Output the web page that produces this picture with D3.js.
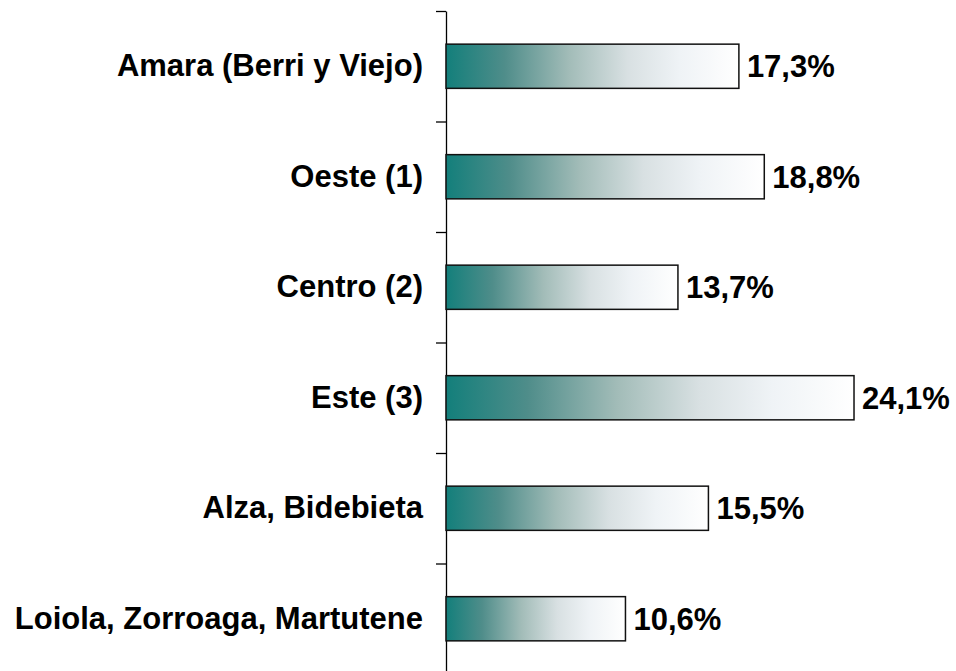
<!DOCTYPE html>
<html>
<head>
<meta charset="utf-8">
<script src="https://cdn.jsdelivr.net/npm/d3@7"></script>
<style>
  body { margin: 0; background: #fff; }
  svg { display: block; }
  text { font-family: "Liberation Sans", Arial, sans-serif; font-weight: bold; fill: #000; }
</style>
</head>
<body>
<div id="chart"></div>
<script>
const categories = [
  'Amara (Berri y Viejo)',
  'Oeste (1)',
  'Centro (2)',
  'Este (3)',
  'Alza, Bidebieta',
  'Loiola, Zorroaga, Martutene'
];
const values = [17.3, 18.8, 13.7, 24.1, 15.5, 10.6];
const valueLabels = ['17,3%', '18,8%', '13,7%', '24,1%', '15,5%', '10,6%'];

const width = 956;
const height = 671;
const axisX = 446;

const svg = d3.select('#chart')
  .append('svg')
  .attr('width', width)
  .attr('height', height);

// teal -> white gradient, like the office style fill
const defs = svg.append('defs');
const grad = defs.append('linearGradient')
  .attr('id', 'barFill')
  .attr('x1', '0%').attr('x2', '100%')
  .attr('y1', '0%').attr('y2', '0%');
[
  [0, '#137f7b'],
  [0.2, '#4f8d8a'],
  [0.42, '#a2bcb8'],
  [0.62, '#d8e0e2'],
  [0.8, '#eff3f6'],
  [1, '#ffffff']
].forEach(s => grad.append('stop').attr('offset', s[0]).attr('stop-color', s[1]));

const x = d3.scaleLinear().domain([0, 30]).range([axisX, axisX + 16.93 * 30]);

const y = d3.scaleBand()
  .domain(categories)
  .range([11, 674])
  .paddingInner(0.6)
  .paddingOuter(0.3);

// boundary ticks between categories
const yEdge = d3.scaleLinear().domain([0, categories.length]).range([11, 674]);

const edgeAxis = svg.append('g')
  .attr('transform', 'translate(' + axisX + ',0)')
  .call(d3.axisLeft(yEdge).ticks(categories.length).tickSize(10).tickSizeOuter(0).tickFormat(''));
edgeAxis.selectAll('line, path')
  .attr('stroke', '#000')
  .attr('stroke-width', 1.3);

// category labels
const labelAxis = svg.append('g')
  .attr('transform', 'translate(' + axisX + ',0)')
  .call(d3.axisLeft(y).tickSize(0).tickPadding(23));
labelAxis.select('.domain').remove();
labelAxis.selectAll('text')
  .attr('font-size', '31px')
  .attr('font-family', '"Liberation Sans", Arial, sans-serif')
  .attr('font-weight', 'bold')
  .attr('fill', '#000');

// bars
svg.append('g')
  .selectAll('rect')
  .data(values)
  .join('rect')
  .attr('x', x(0))
  .attr('y', (d, i) => y(categories[i]))
  .attr('width', d => x(d) - x(0))
  .attr('height', y.bandwidth())
  .attr('fill', 'url(#barFill)')
  .attr('stroke', '#111')
  .attr('stroke-width', 1.5);

// value labels
svg.append('g')
  .selectAll('text')
  .data(values)
  .join('text')
  .attr('x', d => x(d) + 8)
  .attr('y', (d, i) => y(categories[i]) + y.bandwidth() / 2)
  .attr('dy', '0.36em')
  .attr('font-size', '31px')
  .text((d, i) => valueLabels[i]);
</script>
</body>
</html>
